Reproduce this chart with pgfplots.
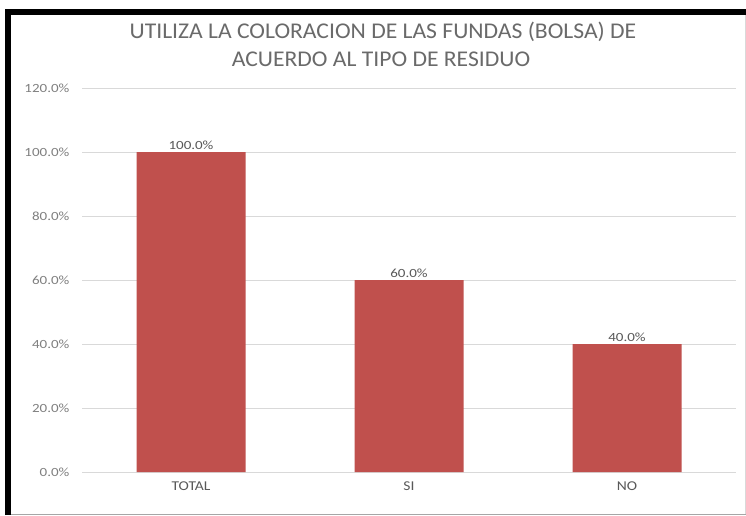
\documentclass[border=0pt]{standalone}
\usepackage{pgfplots}
\pgfplotsset{compat=1.18}
\usepackage{fontspec}
\setmainfont{Carlito}
\definecolor{barred}{HTML}{C0504D}
\definecolor{gridgray}{HTML}{D9D9D9}
\definecolor{txtgray}{HTML}{595959}
\definecolor{titlegray}{HTML}{6A6A6A}
\definecolor{tickgray}{HTML}{808080}
\begin{document}
\begin{tikzpicture}[x=1pt,y=1pt]
\path[use as bounding box] (0,0) rectangle (746,515);
\fill[white] (0,0) rectangle (746,515);
\draw[line width=1pt, black!35] (8,1) -- (746,1);
\draw[line width=0.8pt, black!15] (745.5,1) -- (745.5,502);
\draw[line width=6pt, black] (8,0) -- (8,502.5) -- (746,502.5);
\node[text=titlegray, font=\fontsize{22.5}{27}\selectfont, anchor=base, xscale=1.05, inner sep=0pt] at (383,476) {UTILIZA LA COLORACION DE LAS FUNDAS (BOLSA) DE};
\node[text=titlegray, font=\fontsize{22.5}{27}\selectfont, anchor=base, xscale=1.05, inner sep=0pt] at (381,448) {ACUERDO AL TIPO DE RESIDUO};
\begin{axis}[
  at={(82pt,43pt)}, anchor=south west,
  width=654pt, height=384pt, scale only axis,
  xmin=-0.5, xmax=2.5, ymin=0, ymax=120,
  ytick={0,20,...,120},
  xtick=data, xticklabels={TOTAL,SI,NO},
  axis line style={draw=none},
  major tick length=0pt,
  ymajorgrids, grid style={gridgray, line width=0.8pt},
  /pgf/number format/assume math mode=true,
  yticklabel={\pgfmathprintnumber[fixed,fixed zerofill,precision=1]{\tick}\%},
  yticklabel style={text=tickgray, font=\fontsize{12.5}{14}\selectfont, xscale=1.2, xshift=-7pt},
  xticklabel style={text=txtgray, font=\fontsize{13.5}{15}\selectfont, xscale=1.15, yshift=-6pt},
  ybar, bar width=109pt,
  nodes near coords={\pgfmathprintnumber[fixed,fixed zerofill,precision=1]{\pgfplotspointmeta}\%},
  nodes near coords style={text=txtgray, font=\fontsize{12.5}{14}\selectfont, xscale=1.2, yshift=-1pt},
  clip=false,
]
\addplot[fill=barred, draw=none] coordinates {(0,100) (1,60) (2,40)};
\end{axis}
\end{tikzpicture}
\end{document}
